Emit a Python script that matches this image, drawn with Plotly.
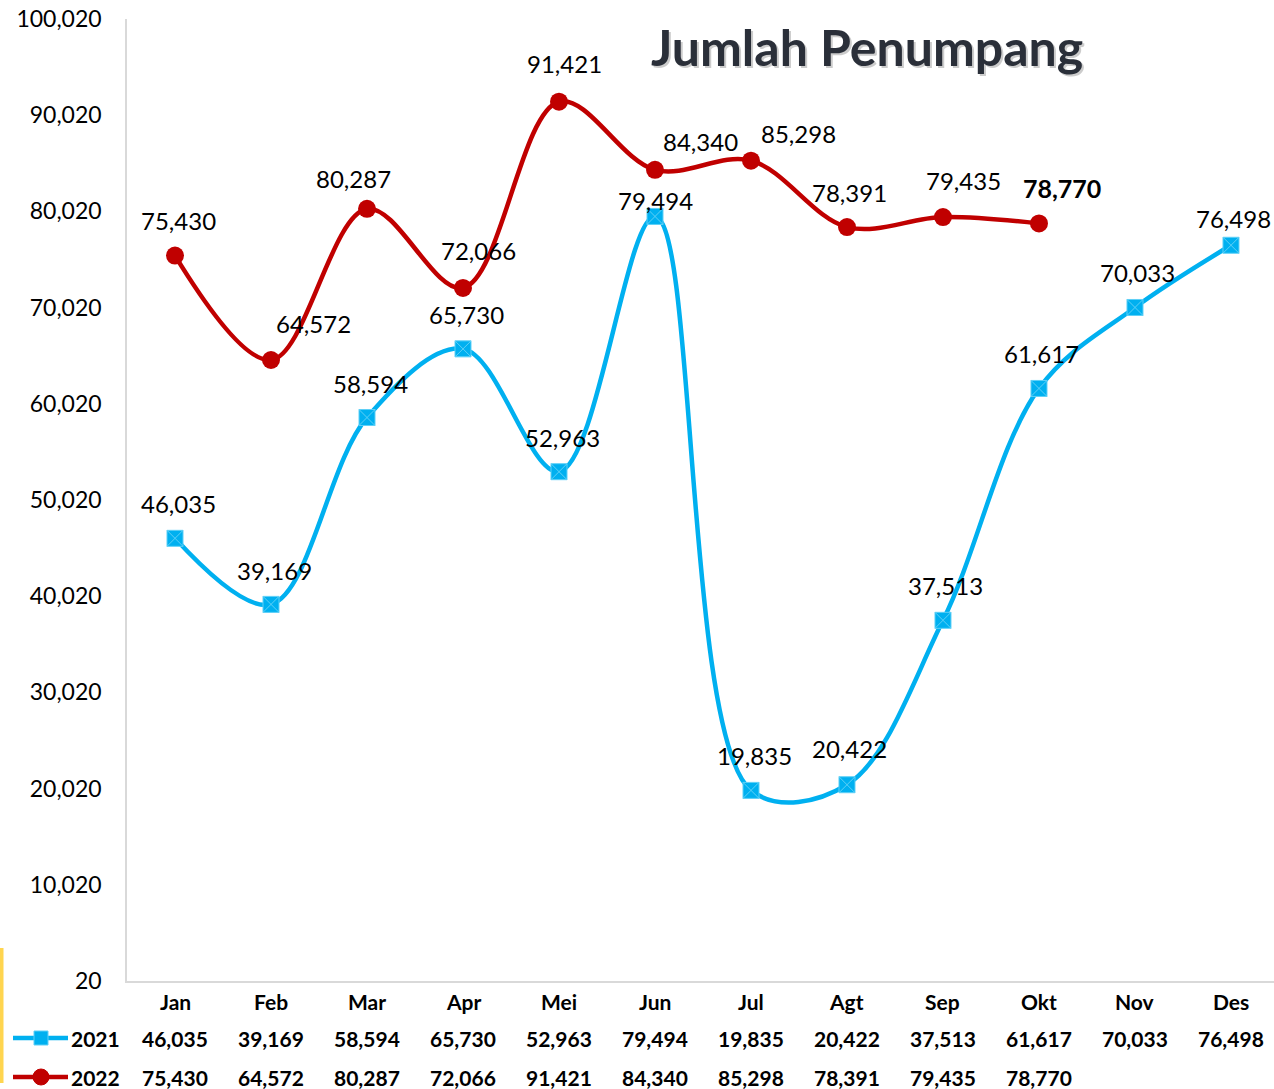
import plotly.graph_objects as go

months = ["Jan", "Feb", "Mar", "Apr", "Mei", "Jun", "Jul", "Agt", "Sep", "Okt", "Nov", "Des"]
values_2021 = [46035, 39169, 58594, 65730, 52963, 79494, 19835, 20422, 37513, 61617, 70033, 76498]
values_2022 = [75430, 64572, 80287, 72066, 91421, 84340, 85298, 78391, 79435, 78770]
y_ticks = [20, 10020, 20020, 30020, 40020, 50020, 60020, 70020, 80020, 90020, 100020]
title_text = "Jumlah Penumpang"

# label layout offsets (pixels), style only
dx_2021 = [3, 3, 3, 3, 3, 0, 3, 3, 3, 3, 3, 3]
dy_2021 = [35, 34, 34, 34, 34, 16, 35, 36, 35, 35, 35, 27]
dx_2022 = [3, 42, -14, 15, 5, 45, 47, 3, 21, 23]
dy_2022 = [35, 37, 30, 37, 38, 28, 27, 35, 37, 35]

BLUE = "#00B0F0"
RED = "#C00000"
FONT = "Lato"

fig = go.Figure()
fig.add_trace(go.Scatter(
    x=months, y=values_2021, mode="lines+markers", name="2021",
    line=dict(color=BLUE, width=4.5, shape="spline", smoothing=1.0),
    marker=dict(symbol="square-x", size=16, color=BLUE, line=dict(color="#5fd0f7", width=1)),
    showlegend=False, cliponaxis=False,
))
fig.add_trace(go.Scatter(
    x=months[:len(values_2022)], y=values_2022, mode="lines+markers", name="2022",
    line=dict(color=RED, width=4.5, shape="spline", smoothing=1.0),
    marker=dict(symbol="circle", size=18, color=RED),
    showlegend=False, cliponaxis=False,
))

ann = []
for i, v in enumerate(values_2021):
    ann.append(dict(x=months[i], y=v, xref="x", yref="y", text=f"{v:,}", showarrow=False,
                    xanchor="center", yanchor="middle", xshift=dx_2021[i], yshift=dy_2021[i],
                    font=dict(family=FONT, size=24, color="#000")))
for i, v in enumerate(values_2022):
    last = i == len(values_2022) - 1
    ann.append(dict(x=months[i], y=v, xref="x", yref="y",
                    text=(f"<b>{v:,}</b>" if last else f"{v:,}"), showarrow=False,
                    xanchor="center", yanchor="middle", xshift=dx_2022[i], yshift=dy_2022[i],
                    font=dict(family=FONT, size=25 if last else 24, color="#000")))

# data table
for i, m in enumerate(months):
    ann.append(dict(x=m, y=0, xref="x", yref="paper", text=f"<b>{m}</b>", showarrow=False,
                    xanchor="center", yanchor="middle", yshift=-20,
                    font=dict(family=FONT, size=21, color="#000")))
for i, v in enumerate(values_2021):
    ann.append(dict(x=months[i], y=0, xref="x", yref="paper", text=f"<b>{v:,}</b>", showarrow=False,
                    xanchor="center", yanchor="middle", yshift=-57,
                    font=dict(family=FONT, size=21, color="#000")))
for i, v in enumerate(values_2022):
    ann.append(dict(x=months[i], y=0, xref="x", yref="paper", text=f"<b>{v:,}</b>", showarrow=False,
                    xanchor="center", yanchor="middle", yshift=-96,
                    font=dict(family=FONT, size=21, color="#000")))
for name, ys in (("2021", -57), ("2022", -96)):
    ann.append(dict(x=0, y=0, xref="paper", yref="paper", text=f"<b>{name}</b>", showarrow=False,
                    xanchor="left", yanchor="middle", xshift=-58, yshift=ys,
                    font=dict(family=FONT, size=21, color="#000")))

# title with soft shadow
ann.append(dict(x=0, y=1, xref="paper", yref="paper", text=f"<b>{title_text}</b>", showarrow=False,
                xanchor="center", yanchor="middle", xshift=742, yshift=-30,
                font=dict(family=FONT, size=50, color="rgba(110,110,110,0.35)")))
ann.append(dict(x=0, y=1, xref="paper", yref="paper", text=f"<b>{title_text}</b>", showarrow=False,
                xanchor="center", yanchor="middle", xshift=740, yshift=-28,
                font=dict(family=FONT, size=50, color="#2a2f39")))

shapes = []
# legend keys
for ys, col, kind in ((-57, BLUE, "rect"), (-96, RED, "circle")):
    shapes.append(dict(type="line", xref="paper", yref="paper", xsizemode="pixel", ysizemode="pixel",
                       xanchor=0, yanchor=0, x0=-114, x1=-59, y0=ys, y1=ys,
                       line=dict(color=col, width=4.5)))
    if kind == "rect":
        shapes.append(dict(type="rect", xref="paper", yref="paper", xsizemode="pixel", ysizemode="pixel",
                           xanchor=0, yanchor=0, x0=-93, x1=-79, y0=ys - 7, y1=ys + 7,
                           fillcolor=col, line=dict(color="#5fd0f7", width=1)))
    else:
        shapes.append(dict(type="circle", xref="paper", yref="paper", xsizemode="pixel", ysizemode="pixel",
                           xanchor=0, yanchor=0, x0=-94, x1=-78, y0=ys - 8, y1=ys + 8,
                           fillcolor=col, line=dict(color=col, width=1)))
# yellow border fragment at the left edge
shapes.append(dict(type="line", xref="paper", yref="paper", xsizemode="pixel", ysizemode="pixel",
                   xanchor=0, yanchor=0, x0=-125.5, x1=-125.5, y0=33, y1=-102,
                   line=dict(color="#FFD54F", width=4)))

fig.update_layout(
    width=1274, height=1089,
    margin=dict(l=127, r=0, t=19, b=108),
    paper_bgcolor="white", plot_bgcolor="white",
    annotations=ann, shapes=shapes,
    xaxis=dict(type="category", categoryorder="array", categoryarray=months,
               range=[-0.5, 11.448], showticklabels=False, showgrid=False, zeroline=False,
               showline=True, linecolor="#d9d9d9", linewidth=1.5, ticks=""),
    yaxis=dict(range=[20, 100020], tickmode="array", tickvals=y_ticks,
               ticktext=[f"{t:,}" for t in y_ticks], showgrid=False, zeroline=False,
               showline=True, linecolor="#d9d9d9", linewidth=1.5,
               ticks="outside", ticklen=19, tickcolor="rgba(0,0,0,0)",
               tickfont=dict(family=FONT, size=23, color="#000")),
)

fig.write_html("out.html", config={"displayModeBar": False},
               post_script="document.body.style.margin='0';document.body.style.overflow='hidden';")
